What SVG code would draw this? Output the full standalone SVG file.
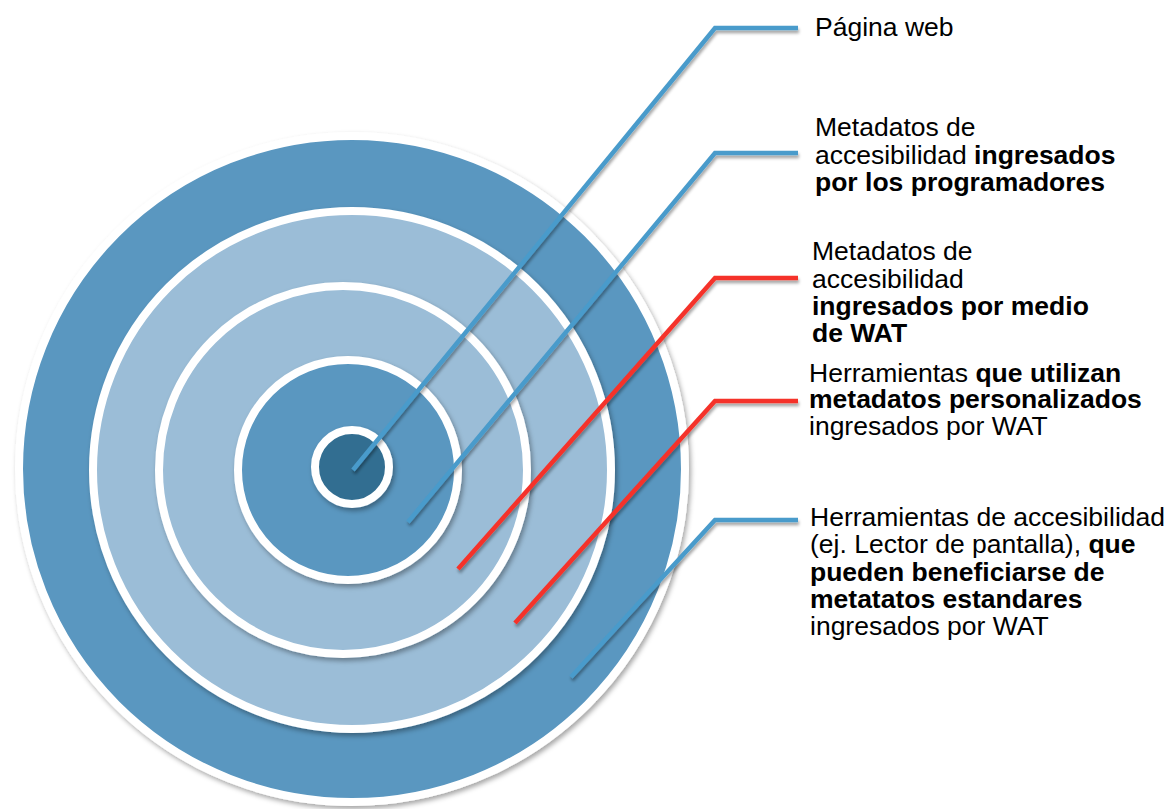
<svg xmlns="http://www.w3.org/2000/svg" width="1169" height="809" viewBox="0 0 1169 809">
<defs>
<filter id="sh" x="-10%" y="-10%" width="125%" height="125%">
<feDropShadow dx="2" dy="3" stdDeviation="2.5" flood-color="#000" flood-opacity="0.35"/>
</filter>
<filter id="lsh" x="-10%" y="-10%" width="130%" height="130%">
<feDropShadow dx="1" dy="3" stdDeviation="1.8" flood-color="#000" flood-opacity="0.35"/>
</filter>
</defs>
<style>
.ring{stroke:#fff;stroke-width:8;filter:url(#sh)}
.dark{fill:#5A97C0}
.light{fill:#9BBDD7}
.core{fill:#336E91}
.ln{fill:none;stroke-width:4.5;stroke-linejoin:miter;filter:url(#lsh)}
.blue{stroke:#4A9BCB}
.red{stroke:#F5332A}
text{font-family:"Liberation Sans",Arial,sans-serif;font-size:26.5px;fill:#000}
.b{font-weight:bold}
</style>
<rect width="1169" height="809" fill="#fff"/>
<g id="ring-outer"><circle class="ring dark" cx="352" cy="469" r="333"/></g>
<g id="ring-2"><circle class="ring light" cx="352" cy="470" r="259"/></g>
<g id="ring-3"><circle class="ring light" cx="343" cy="470" r="184"/></g>
<g id="ring-4"><circle class="ring dark" cx="348" cy="470" r="110"/></g>
<g id="ring-core"><circle class="ring core" cx="352" cy="467" r="37"/></g>
<g id="connectors">
<polyline class="ln blue" points="353,470 715,28 798,28"/>
<polyline class="ln blue" points="408,522 715,153 798,153"/>
<polyline class="ln red" points="458,569 715,278 798,278"/>
<polyline class="ln red" points="515,623 715,401 798,401"/>
<polyline class="ln blue" points="571,677 715,520 798,520"/>
</g>
<g id="label-1"><text x="815" y="36">Página web</text></g>
<g id="label-2">
<text x="815" y="136">Metadatos de</text>
<text x="815" y="164">accesibilidad <tspan class="b">ingresados</tspan></text>
<text x="815" y="191" class="b">por los programadores</text>
</g>
<g id="label-3">
<text x="812" y="260">Metadatos de</text>
<text x="812" y="288">accesibilidad</text>
<text x="812" y="315" class="b">ingresados por medio</text>
<text x="812" y="342" class="b">de WAT</text>
</g>
<g id="label-4">
<text x="809" y="382">Herramientas <tspan class="b">que utilizan</tspan></text>
<text x="809" y="408" class="b">metadatos personalizados</text>
<text x="809" y="435">ingresados por WAT</text>
</g>
<g id="label-5">
<text x="810" y="526">Herramientas de accesibilidad</text>
<text x="810" y="553">(ej. Lector de pantalla), <tspan class="b">que</tspan></text>
<text x="810" y="581" class="b">pueden beneficiarse de</text>
<text x="810" y="608" class="b">metatatos estandares</text>
<text x="810" y="635">ingresados por WAT</text>
</g>
</svg>
